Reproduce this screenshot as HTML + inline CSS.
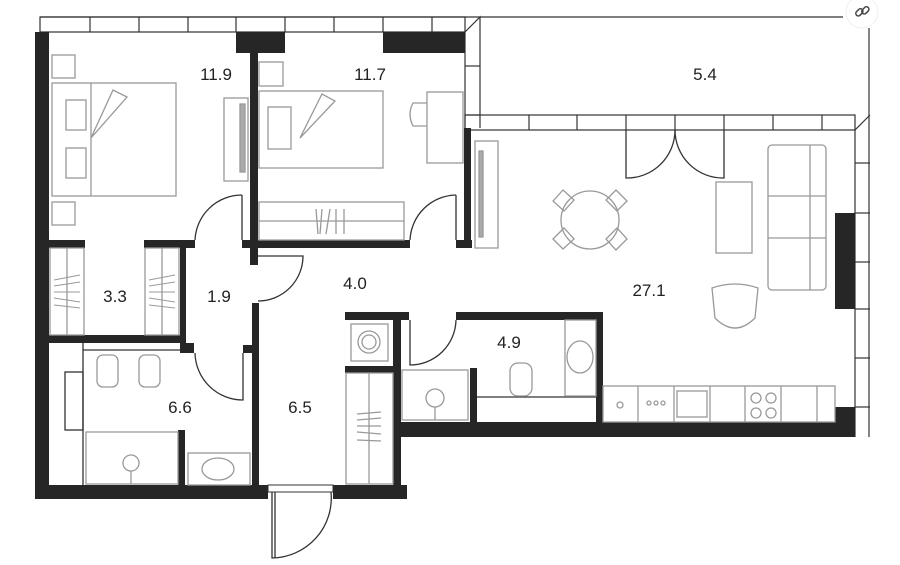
<!DOCTYPE html>
<html><head><meta charset="utf-8"><style>
html,body{margin:0;padding:0;background:#fff;}
svg{display:block;}
text{font-family:"Liberation Sans",sans-serif;font-size:17px;fill:#222;text-anchor:middle;}
</style></head><body>
<svg width="900" height="565" viewBox="0 0 900 565" xmlns="http://www.w3.org/2000/svg">
<rect width="900" height="565" fill="#fff"/>
<g fill="none" stroke="#333" stroke-width="1.2">
<line x1="40" y1="17" x2="843" y2="17"/>
<line x1="869" y1="28" x2="869" y2="437"/>
<rect x="40" y="17" width="425" height="15"/>
<line x1="90" y1="17" x2="90" y2="32"/><line x1="139" y1="17" x2="139" y2="32"/><line x1="188" y1="17" x2="188" y2="32"/><line x1="236" y1="17" x2="236" y2="32"/><line x1="285" y1="17" x2="285" y2="32"/><line x1="334" y1="17" x2="334" y2="32"/><line x1="383" y1="17" x2="383" y2="32"/><line x1="432" y1="17" x2="432" y2="32"/>
<polyline points="465,32 480,17 480,128"/>
<line x1="465" y1="32" x2="465" y2="128"/>
<line x1="465" y1="66" x2="480" y2="66"/>
<line x1="465" y1="115" x2="480" y2="115"/>
<rect x="465" y="115" width="390" height="15"/>
<line x1="855" y1="130" x2="870" y2="115"/>
<line x1="529" y1="115" x2="529" y2="130"/><line x1="577" y1="115" x2="577" y2="130"/><line x1="626" y1="115" x2="626" y2="130"/><line x1="675" y1="115" x2="675" y2="130"/><line x1="724" y1="115" x2="724" y2="130"/><line x1="773" y1="115" x2="773" y2="130"/><line x1="822" y1="115" x2="822" y2="130"/>
<line x1="855" y1="130" x2="855" y2="437"/>
<line x1="855" y1="163" x2="870" y2="163"/><line x1="855" y1="213" x2="870" y2="213"/><line x1="855" y1="262" x2="870" y2="262"/><line x1="855" y1="309" x2="870" y2="309"/><line x1="855" y1="358" x2="870" y2="358"/><line x1="855" y1="407" x2="870" y2="407"/>
</g>
<g fill="#262626">
<rect x="35" y="32" width="14" height="467"/>
<rect x="35" y="485" width="233" height="14"/>
<rect x="333" y="485" width="74" height="14"/>
<rect x="236" y="32" width="49" height="21"/>
<rect x="383" y="32" width="82" height="21"/>
<rect x="250" y="53" width="8" height="212"/>
<rect x="49" y="240" width="36" height="8"/>
<rect x="144" y="240" width="51" height="8"/>
<rect x="242" y="240" width="168" height="8"/>
<rect x="456" y="240" width="16" height="8"/>
<rect x="464" y="128" width="7" height="120"/>
<rect x="180" y="240" width="6" height="110"/>
<rect x="49" y="335" width="136" height="8"/>
<rect x="180" y="343" width="14" height="10"/>
<rect x="243" y="345" width="15" height="8"/>
<rect x="252" y="303" width="7" height="196"/>
<rect x="178" y="430" width="7" height="62"/>
<rect x="345" y="312" width="64" height="8"/>
<rect x="456" y="312" width="147" height="8"/>
<rect x="596" y="312" width="7" height="112"/>
<rect x="393" y="312" width="8" height="187"/>
<rect x="345" y="366" width="55" height="7"/>
<rect x="470" y="368" width="7" height="56"/>
<rect x="393" y="422" width="462" height="15"/>
<rect x="835" y="213" width="20" height="96"/>
<rect x="835" y="407" width="20" height="30"/>
</g>
<g fill="none" stroke="#333" stroke-width="1.3">
<path d="M242,195 A47,47 0 0 0 195,240"/><line x1="242" y1="195" x2="242" y2="240"/>
<path d="M456,195 A47,47 0 0 0 410,240"/><line x1="456" y1="195" x2="456" y2="240"/>
<path d="M258,256 L303,256 A45,45 0 0 1 258,301"/>
<path d="M243,353 L243,400 A48,48 0 0 1 195,353"/>
<path d="M456,320 A46,46 0 0 1 410,365 L410,320"/>
<path d="M626,130 L626,178 A48,48 0 0 0 675,130"/>
<path d="M724,130 L724,178 A48,48 0 0 1 675,130"/>
<rect x="268" y="485" width="65" height="7" stroke-width="1"/>
<path d="M272,492 L272,558 A60,60 0 0 0 331,492"/>
<line x1="275" y1="492" x2="275" y2="558"/>
<rect x="65" y="372" width="18" height="58"/>
<line x1="83" y1="343" x2="83" y2="485"/>
<line x1="83" y1="350" x2="180" y2="350"/>
<line x1="477" y1="397" x2="597" y2="397"/>
</g>
<g fill="none" stroke="#999" stroke-width="1.3">
<rect x="52" y="55" width="23" height="23"/>
<rect x="52" y="202" width="23" height="23"/>
<rect x="52" y="83" width="124" height="113"/>
<line x1="91" y1="83" x2="91" y2="196"/>
<rect x="66" y="100" width="20" height="30"/><rect x="66" y="148" width="20" height="30"/>
<polyline points="91,138 113,90 127,97 91,138"/>
<rect x="224" y="98" width="24" height="83"/>
<rect x="240" y="104" width="5" height="68" fill="#aaa"/>
<rect x="259" y="62" width="24" height="24"/>
<rect x="259" y="91" width="124" height="77"/>
<rect x="268" y="107" width="23" height="42"/>
<polyline points="300,138 322,94 335,101 300,138"/>
<rect x="427" y="92" width="36" height="71"/>
<path d="M427,103 L413,103 Q407,114 413,126 L427,126"/>
<rect x="259" y="202" width="145" height="38"/>
<line x1="259" y1="221" x2="404" y2="221"/>
<line x1="316" y1="209" x2="318" y2="234"/><line x1="322" y1="209" x2="320" y2="234"/><line x1="330" y1="209" x2="326" y2="234"/><line x1="336" y1="209" x2="336" y2="234"/><line x1="344" y1="209" x2="344" y2="234"/>
<rect x="475" y="141" width="23" height="107"/>
<rect x="479" y="151" width="4" height="86" fill="#aaa"/>
<rect x="50" y="248" width="34" height="87"/><line x1="67" y1="248" x2="67" y2="335"/>
<rect x="145" y="248" width="34" height="87"/><line x1="162" y1="248" x2="162" y2="335"/>
<g stroke-width="1"><line x1="54" y1="280" x2="80" y2="275"/><line x1="54" y1="286" x2="80" y2="282"/><line x1="54" y1="292" x2="80" y2="292"/><line x1="54" y1="298" x2="80" y2="302"/><line x1="54" y1="305" x2="80" y2="308"/>
<line x1="149" y1="280" x2="175" y2="275"/><line x1="149" y1="286" x2="175" y2="282"/><line x1="149" y1="292" x2="175" y2="292"/><line x1="149" y1="298" x2="175" y2="302"/><line x1="149" y1="305" x2="175" y2="308"/></g>
<rect x="97" y="355" width="21" height="32" rx="6"/>
<rect x="139" y="355" width="21" height="32" rx="6"/>
<rect x="86" y="432" width="92" height="52"/>
<circle cx="131" cy="463" r="8"/><line x1="131" y1="471" x2="131" y2="484"/>
<rect x="188" y="453" width="62" height="32"/>
<ellipse cx="218" cy="469" rx="16" ry="11"/>
<rect x="351" y="324" width="37" height="37"/><circle cx="369" cy="342" r="11"/><circle cx="369" cy="342" r="7"/>
<rect x="346" y="373" width="47" height="111"/><line x1="369" y1="373" x2="369" y2="484"/>
<line x1="357" y1="414" x2="381" y2="412"/><line x1="357" y1="420" x2="381" y2="418"/><line x1="357" y1="426" x2="381" y2="426"/><line x1="357" y1="432" x2="381" y2="434"/><line x1="357" y1="440" x2="381" y2="441"/>
<rect x="402" y="370" width="66" height="50"/>
<circle cx="435" cy="398" r="9"/><line x1="435" y1="407" x2="435" y2="420"/>
<rect x="565" y="320" width="31" height="76"/>
<ellipse cx="580" cy="357" rx="13" ry="16"/>
<rect x="510" y="363" width="22" height="33" rx="8"/>
<circle cx="590" cy="220" r="29"/>
<path d="M553,201 L563,190 L574,200 L564,211Z"/><path d="M616,190 L627,201 L617,211 L606,200Z"/>
<path d="M553,239 L563,249 L574,239 L564,228Z"/><path d="M616,250 L627,239 L617,228 L606,239Z"/>
<rect x="716" y="182" width="36" height="71"/>
<rect x="768" y="145" width="58" height="145" rx="4"/>
<line x1="810" y1="145" x2="810" y2="290"/>
<line x1="768" y1="196" x2="826" y2="196"/><line x1="768" y1="238" x2="826" y2="238"/>
<path d="M712,288 Q735,280 758,288 L755,318 Q735,338 715,318Z"/>
<rect x="603" y="386" width="232" height="36"/>
<line x1="638" y1="386" x2="638" y2="422"/><line x1="674" y1="386" x2="674" y2="422"/><line x1="710" y1="386" x2="710" y2="422"/><line x1="745" y1="386" x2="745" y2="422"/><line x1="781" y1="386" x2="781" y2="422"/><line x1="817" y1="386" x2="817" y2="422"/>
<rect x="677" y="391" width="30" height="26"/>
<circle cx="756" cy="398" r="5"/><circle cx="771" cy="398" r="5"/><circle cx="756" cy="413" r="5"/><circle cx="771" cy="413" r="5"/>
<circle cx="649" cy="403" r="2"/><circle cx="656" cy="403" r="2"/><circle cx="663" cy="403" r="2"/>
<circle cx="620" cy="405" r="3"/>
</g>
<text x="216" y="80">11.9</text>
<text x="370" y="80">11.7</text>
<text x="705" y="80">5.4</text>
<text x="115" y="302">3.3</text>
<text x="219" y="302">1.9</text>
<text x="355" y="289">4.0</text>
<text x="649" y="296">27.1</text>
<text x="509" y="348">4.9</text>
<text x="180" y="413">6.6</text>
<text x="300" y="413">6.5</text>
<circle cx="862" cy="12" r="16" fill="#fff" stroke="#eee"/>
<g fill="none" stroke="#444" stroke-width="1.5"><rect x="855" y="10" width="8" height="5" rx="2.5" transform="rotate(-45 859 12)"/><rect x="861" y="8" width="8" height="5" rx="2.5" transform="rotate(-45 865 10)"/></g>
</svg>
</body></html>
